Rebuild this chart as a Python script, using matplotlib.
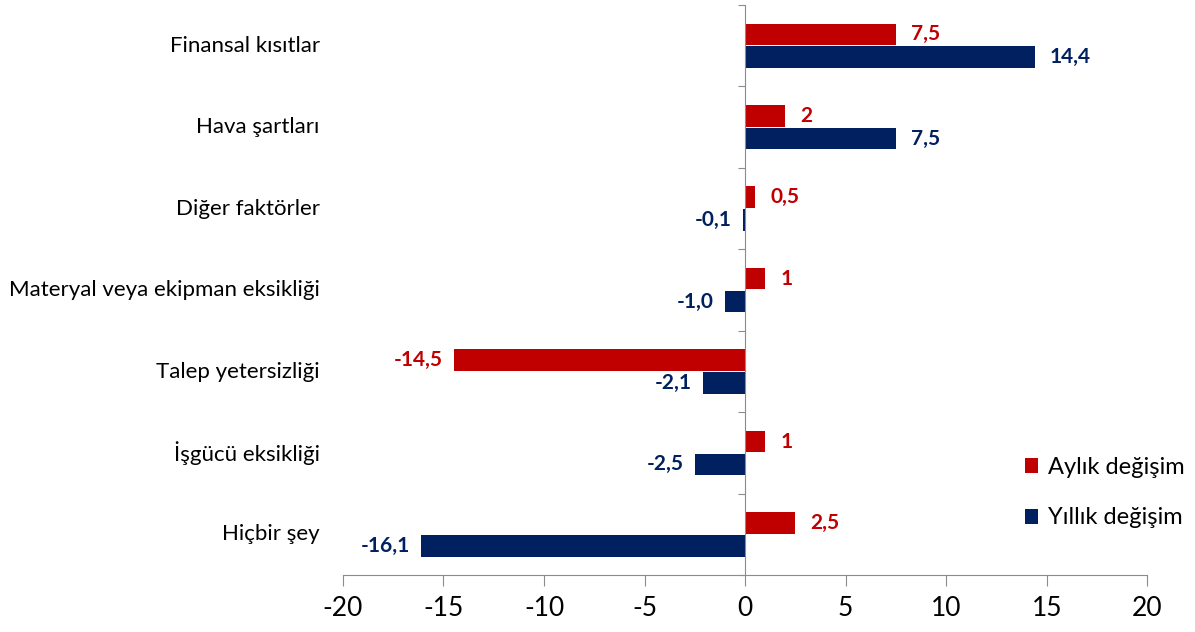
import numpy as np
import matplotlib
matplotlib.use('Agg')
import matplotlib.pyplot as plt

# veriler
kategoriler = ['Finansal kısıtlar', 'Hava şartları', 'Diğer faktörler',
               'Materyal veya ekipman eksikliği', 'Talep yetersizliği',
               'İşgücü eksikliği', 'Hiçbir şey']
aylik = [7.5, 2, 0.5, 1, -14.5, 1, 2.5]
yillik = [14.4, 7.5, -0.1, -1.0, -2.1, -2.5, -16.1]
aylik_etiket = ['7,5', '2', '0,5', '1', '-14,5', '1', '2,5']
yillik_etiket = ['14,4', '7,5', '-0,1', '-1,0', '-2,1', '-2,5', '-16,1']
x_ticks = [-20, -15, -10, -5, 0, 5, 10, 15, 20]

kirmizi = '#C00000'
lacivert = '#002060'
gri = '#8C8C8C'

plt.rcParams['font.family'] = ['Lato', 'DejaVu Sans']

fig = plt.figure(figsize=(11.95, 6.32), dpi=100)
ax = fig.add_axes([0.287, 0.09, 0.673, 0.902])

y = np.arange(len(kategoriler))
h = 0.265
ax.barh(y - 0.14, aylik, height=h, color=kirmizi, label='Aylık değişim')
ax.barh(y + 0.14, yillik, height=h, color=lacivert, label='Yıllık değişim')

# değer etiketleri
for i in range(len(kategoriler)):
    for val, lab, off, col in [(aylik[i], aylik_etiket[i], -0.14, kirmizi),
                               (yillik[i], yillik_etiket[i], 0.14, lacivert)]:
        if val >= 0:
            ax.annotate(lab, (val, i + off), xytext=(11, 0), textcoords='offset points',
                        ha='left', va='center', color=col, fontsize=15, fontweight='bold')
        else:
            ax.annotate(lab, (val, i + off), xytext=(-8, 0), textcoords='offset points',
                        ha='right', va='center', color=col, fontsize=15, fontweight='bold')

# kategori isimleri
for i, k in enumerate(kategoriler):
    ax.text(-0.029, i, k, transform=ax.get_yaxis_transform(), ha='right', va='center',
            fontsize=16, color='black')

ax.set_xlim(-20, 20)
ax.set_ylim(len(kategoriler) - 0.5, -0.5)
ax.set_xticks(x_ticks)
ax.set_xticklabels([str(t) for t in x_ticks], fontsize=19)
ax.set_yticks(np.arange(-0.5, len(kategoriler), 1))
ax.set_yticklabels([])

ax.spines['top'].set_visible(False)
ax.spines['right'].set_visible(False)
ax.spines['left'].set_position(('data', 0))
ax.spines['left'].set_color(gri)
ax.spines['bottom'].set_color(gri)
ax.tick_params(axis='x', direction='out', length=8, color=gri, pad=7)
ax.tick_params(axis='y', direction='out', length=5, color=gri)

leg = fig.legend(loc='upper left', bbox_to_anchor=(0.85, 0.292), frameon=False,
                 fontsize=17, handlelength=0.55, handleheight=0.6, handletextpad=0.4,
                 labelspacing=1.25, borderaxespad=0)

fig.savefig('out.png', dpi=100)
